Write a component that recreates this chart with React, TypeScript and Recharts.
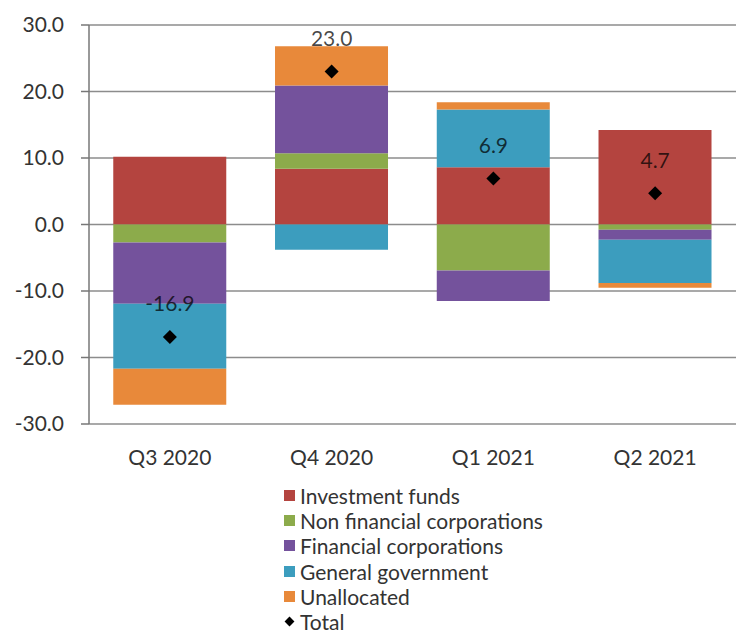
import React from "react";
import {
  ComposedChart,
  Bar,
  Line,
  XAxis,
  YAxis,
  CartesianGrid,
  LabelList,
} from "recharts";

const quarters = ["Q3 2020", "Q4 2020", "Q1 2021", "Q2 2021"];
const investmentFunds = [10.2, 8.4, 8.6, 14.2];
const nonFinancialCorps = [-2.7, 2.3, -6.9, -0.8];
const financialCorps = [-9.2, 10.2, -4.6, -1.5];
const generalGovernment = [-9.8, -3.8, 8.7, -6.5];
const unallocated = [-5.4, 5.9, 1.1, -0.7];
const totals = [-16.9, 23.0, 6.9, 4.7];
const yTicks = [-30, -20, -10, 0, 10, 20, 30];

const series = [
  { key: "if", name: "Investment funds", color: "#B4443F" },
  { key: "nf", name: "Non financial corporations", color: "#8CAB4B" },
  { key: "fc", name: "Financial corporations", color: "#74529C" },
  { key: "gg", name: "General government", color: "#3C9DBE" },
  { key: "un", name: "Unallocated", color: "#E8893A" },
];

const data = quarters.map((q, i) => ({
  q,
  if: investmentFunds[i],
  nf: nonFinancialCorps[i],
  fc: financialCorps[i],
  gg: generalGovernment[i],
  un: unallocated[i],
  total: totals[i],
}));

const FONT = "Lato, 'Open Sans', sans-serif";
const FS = 21;

const Diamond = (props: any) => {
  const { cx, cy } = props;
  if (cx == null || cy == null) return null;
  const r = 7;
  return (
    <path
      d={`M${cx},${cy - r} L${cx + r},${cy} L${cx},${cy + r} L${cx - r},${cy} Z`}
      fill="#000"
    />
  );
};

const TotalLabel = (props: any) => {
  const { x, y, value } = props;
  return (
    <text
      x={x}
      y={y - 34}
      textAnchor="middle"
      dominantBaseline="central"
      fontSize={FS}
      fontFamily={FONT}
      fill="#000"
      fillOpacity={0.72}
    >
      {Number(value).toFixed(1)}
    </text>
  );
};

export default function App() {
  return (
    <div
      style={{
        position: "fixed",
        left: 0,
        top: 0,
        width: 736,
        height: 635,
        background: "#fff",
        fontFamily: FONT,
        overflow: "hidden",
      }}
    >
      <ComposedChart
        width={736}
        height={480}
        data={data}
        stackOffset="sign"
        barCategoryGap="15%"
        margin={{ top: 25, right: 0, left: 0, bottom: 16 }}
      >
        <CartesianGrid vertical={false} stroke="#8c8c8c" strokeWidth={1.5} />
        <XAxis
          dataKey="q"
          axisLine={false}
          tickLine={false}
          tickSize={0}
          tickMargin={26}
          height={40}
          tick={{ fontSize: FS, fill: "#333", fontFamily: FONT }}
        />
        <YAxis
          domain={[-30, 30]}
          ticks={yTicks}
          width={89}
          tickSize={8}
          tickMargin={17}
          tickFormatter={(v) => Number(v).toFixed(1)}
          axisLine={{ stroke: "#777", strokeWidth: 1.5 }}
          tickLine={{ stroke: "#777", strokeWidth: 1.5 }}
          tick={{ fontSize: FS, fill: "#333", fontFamily: FONT }}
        />
        {series.map((s) => (
          <Bar
            key={s.key}
            dataKey={s.key}
            name={s.name}
            stackId="a"
            fill={s.color}
            isAnimationActive={false}
          />
        ))}
        <Line
          dataKey="total"
          name="Total"
          stroke="none"
          dot={<Diamond />}
          activeDot={false}
          isAnimationActive={false}
        >
          <LabelList dataKey="total" content={<TotalLabel />} />
        </Line>
      </ComposedChart>
      <div
        style={{
          position: "absolute",
          left: 284,
          top: 483,
          fontSize: FS,
          lineHeight: "21px",
          color: "#333",
        }}
      >
        {series.map((s) => (
          <div
            key={s.key}
            style={{ display: "flex", alignItems: "center", height: 25.2 }}
          >
            <span
              style={{
                width: 11,
                height: 11,
                background: s.color,
                marginRight: 5,
                display: "inline-block",
              }}
            />
            <span>{s.name}</span>
          </div>
        ))}
        <div style={{ display: "flex", alignItems: "center", height: 25.2 }}>
          <span
            style={{
              width: 7,
              height: 7,
              background: "#000",
              transform: "rotate(45deg)",
              margin: "0 7px 0 2px",
              display: "inline-block",
            }}
          />
          <span>Total</span>
        </div>
      </div>
    </div>
  );
}
